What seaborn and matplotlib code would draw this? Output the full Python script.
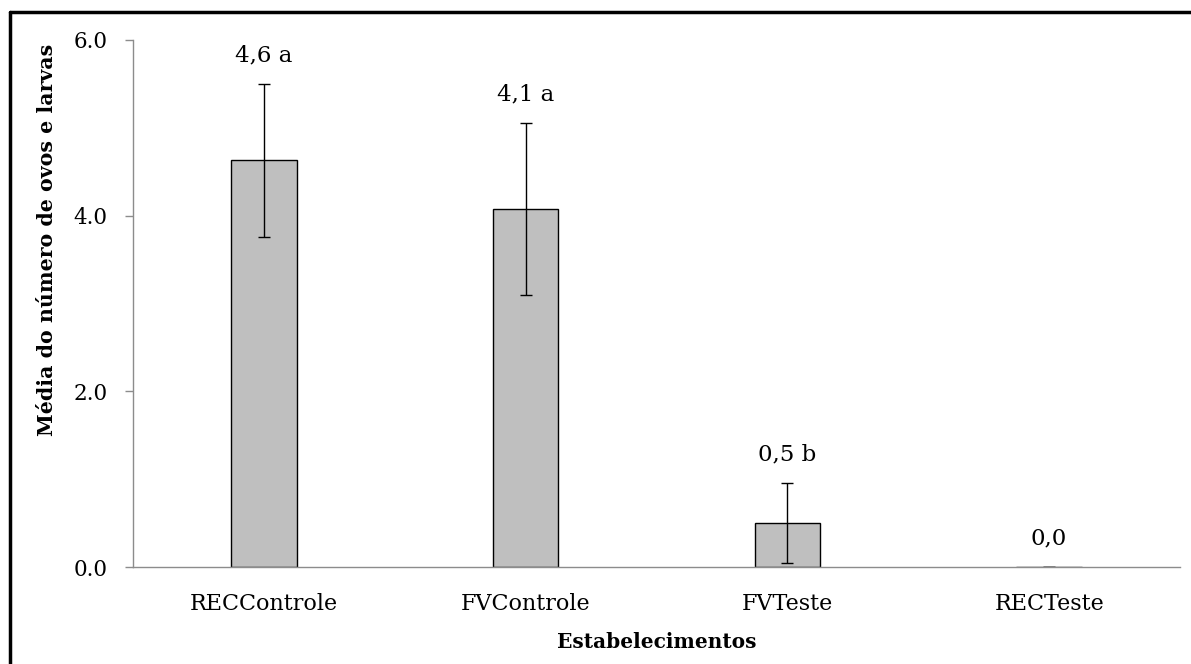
import matplotlib
matplotlib.use("Agg")
import matplotlib.pyplot as plt
import seaborn as sns
import pandas as pd
from matplotlib.lines import Line2D

categories = ["RECControle", "FVControle", "FVTeste", "RECTeste"]
means = [4.63, 4.08, 0.50, 0.0]
errors = [0.87, 0.98, 0.46, 0.0]
value_labels = ["4,6 a", "4,1 a", "0,5 b", "0,0"]
yticks = [0.0, 2.0, 4.0, 6.0]
ytick_labels = ["0.0", "2.0", "4.0", "6.0"]

sns.set_theme(style="white")
plt.rcParams["font.family"] = ["DejaVu Serif"]
plt.rcParams["text.color"] = "black"
plt.rcParams["axes.labelcolor"] = "black"

df = pd.DataFrame({"cat": categories, "val": means})

fig = plt.figure(figsize=(11.91, 6.64), dpi=100)
ax = fig.add_axes([133/1191, 1 - 567/664, (1180 - 133)/1191, (567 - 40)/664])

sns.barplot(data=df, x="cat", y="val", color="#BFBFBF", edgecolor="black",
            linewidth=1.0, width=0.25, saturation=1, errorbar=None, ax=ax)
ax.errorbar(range(len(categories)), means, yerr=errors, fmt="none",
            ecolor="black", elinewidth=1.0, capsize=4, capthick=1.0)

for i, (m, e, lab) in enumerate(zip(means, errors, value_labels)):
    ax.annotate(lab, xy=(i, m + e), xytext=(0, 16), textcoords="offset points",
                ha="center", va="baseline", fontsize=16.5, color="black")

ax.set_ylim(0, 6)
ax.set_xlim(-0.5, 3.5)
ax.set_yticks(yticks)
ax.set_yticklabels(ytick_labels, fontsize=15.5, color="black")
ax.tick_params(axis="y", direction="out", length=5.5, width=1, color="#8C8C8C",
               pad=13, left=True)
ax.tick_params(axis="x", length=0, pad=19, labelsize=16, labelcolor="black")

for s in ["top", "right"]:
    ax.spines[s].set_visible(False)
for s in ["left", "bottom"]:
    ax.spines[s].set_color("#8C8C8C")
    ax.spines[s].set_linewidth(1.0)

ax.set_xlabel("Estabelecimentos", fontsize=14.5, fontweight="bold", labelpad=12,
              color="black")
ax.set_ylabel("Média do número de ovos e larvas", fontsize=14.8, fontweight="bold",
              color="black")
ax.yaxis.set_label_coords(-0.073, 0.62)

# outer frame (left and top edges visible)
fig.add_artist(Line2D([10/1191, 10/1191], [0, 1 - 12/664], transform=fig.transFigure,
                      color="black", linewidth=2.5))
fig.add_artist(Line2D([10/1191, 1], [1 - 12/664, 1 - 12/664], transform=fig.transFigure,
                      color="black", linewidth=2.5))

fig.savefig("out.png", dpi=100)
